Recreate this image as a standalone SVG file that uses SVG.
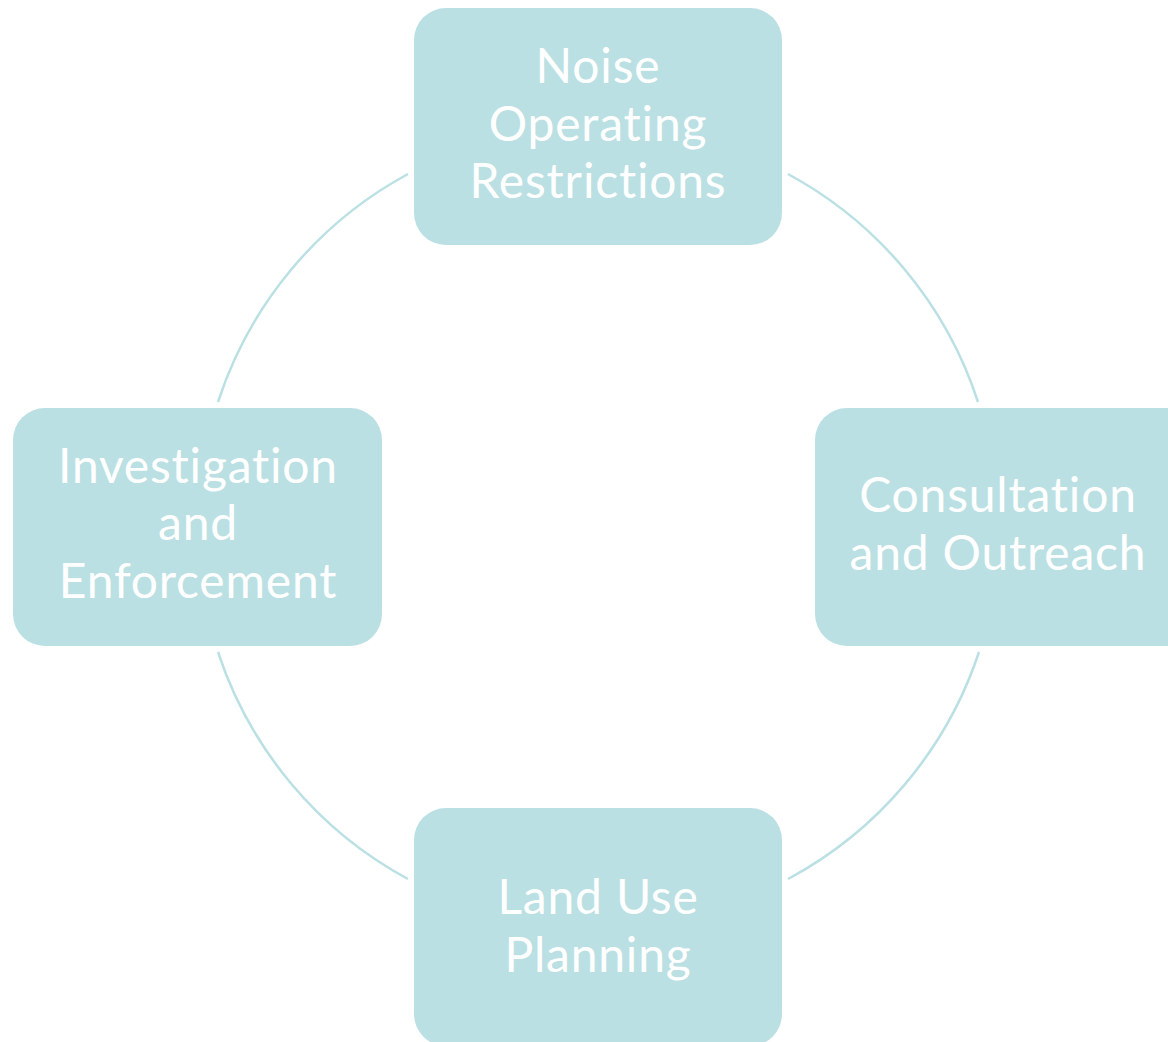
<svg xmlns="http://www.w3.org/2000/svg" width="1168" height="1042" viewBox="0 0 1168 1042">
<style>
.box{fill:#BBE0E3;}
.lbl{fill:#FFFFFF;font-family:Lato,"Open Sans","Liberation Sans",sans-serif;font-size:48px;letter-spacing:0.8px;font-variant-ligatures:none;text-anchor:middle;}
.arc{fill:none;stroke:#BBE0E3;stroke-width:2.5;}
</style>
<rect width="1168" height="1042" fill="#FFFFFF"/>
<g id="connectors">
<path class="arc" d="M218,402 A400,400 0 0 1 408,174"/>
<path class="arc" d="M788,174 A400,400 0 0 1 978,402"/>
<path class="arc" d="M979,652 A400,400 0 0 1 788,879"/>
<path class="arc" d="M408,879 A400,400 0 0 1 218,652"/>
</g>
<g id="node-noise">
<rect class="box" x="414" y="8" width="368" height="237" rx="32"/>
<text class="lbl" x="598" y="83">Noise</text>
<text class="lbl" x="598" y="141">Operating</text>
<text class="lbl" x="598" y="198">Restrictions</text>
</g>
<g id="node-consultation">
<rect class="box" x="815" y="408" width="390" height="238" rx="32"/>
<text class="lbl" x="998" y="512">Consultation</text>
<text class="lbl" x="998" y="570">and Outreach</text>
</g>
<g id="node-investigation">
<rect class="box" x="13" y="408" width="369" height="238" rx="32"/>
<text class="lbl" x="198" y="483">Investigation</text>
<text class="lbl" x="198" y="540">and</text>
<text class="lbl" x="198" y="598">Enforcement</text>
</g>
<g id="node-land">
<rect class="box" x="414" y="808" width="368" height="238" rx="32"/>
<text class="lbl" x="598" y="914">Land Use</text>
<text class="lbl" x="598" y="972">Planning</text>
</g>
</svg>
